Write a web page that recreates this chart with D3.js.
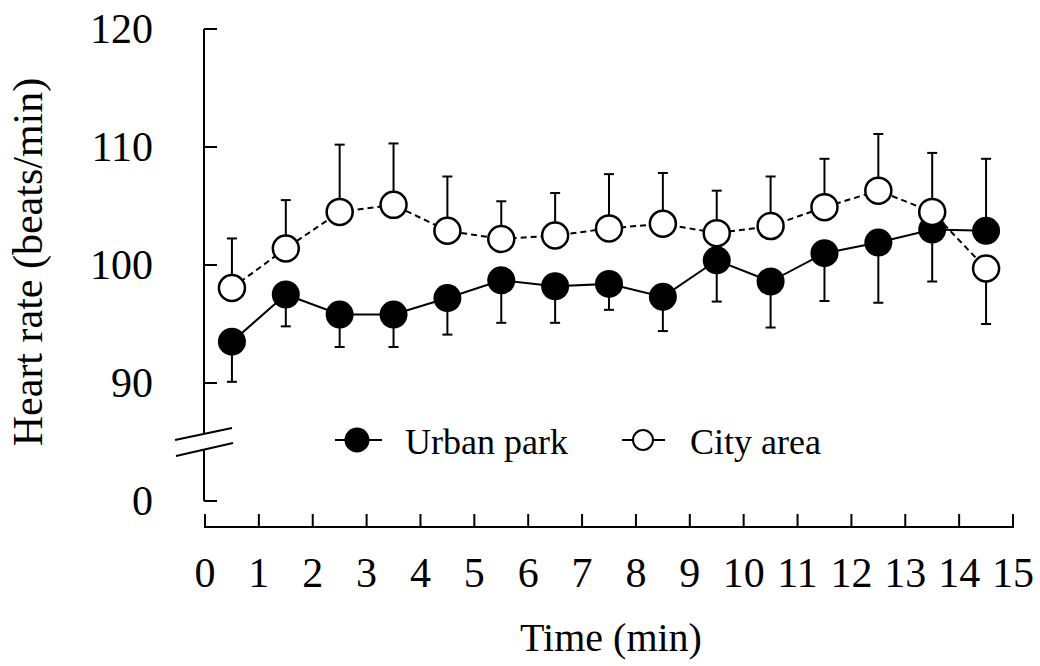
<!DOCTYPE html>
<html>
<head>
<meta charset="utf-8">
<script src="https://cdn.jsdelivr.net/npm/d3@7/dist/d3.min.js"></script>
<style>
  html, body { margin: 0; padding: 0; background: #fff; }
  svg { display: block; }
  text { font-family: "Liberation Serif", "Times New Roman", serif; fill: #000; }
</style>
</head>
<body>
<svg id="chart" width="1040" height="666"></svg>
<script>
// ---- data ----
const times = [0.5, 1.5, 2.5, 3.5, 4.5, 5.5, 6.5, 7.5, 8.5, 9.5, 10.5, 11.5, 12.5, 13.5, 14.5];
const urbanPark = [93.5, 97.5, 95.8, 95.8, 97.2, 98.7, 98.2, 98.4, 97.3, 100.4, 98.6, 101.0, 101.9, 103.0, 102.9];
const urbanSD   = [3.4, 2.7, 2.75, 2.75, 3.1, 3.6, 3.1, 2.2, 2.9, 3.5, 3.9, 4.05, 5.1, 4.4, 6.1];
const urbanDir  = [-1, -1, -1, -1, -1, -1, -1, -1, -1, -1, -1, -1, -1, -1, 1];
const cityArea  = [98.05, 101.4, 104.5, 105.1, 102.9, 102.2, 102.5, 103.1, 103.5, 102.7, 103.3, 104.9, 106.3, 104.5, 99.7];
const citySD    = [4.2, 4.1, 5.7, 5.2, 4.6, 3.2, 3.6, 4.6, 4.3, 3.6, 4.2, 4.1, 4.8, 5.0, 4.7];
const cityDir   = [1, 1, 1, 1, 1, 1, 1, 1, 1, 1, 1, 1, 1, 1, -1];
const xTicks = d3.range(0, 16);
const yTicks = [0, 90, 100, 110, 120];
const seriesNames = ["Urban park", "City area"];

// ---- scales ----
const svg = d3.select("#chart");
const x = d3.scaleLinear().domain([0, 15]).range([205, 1013]);
const y = d3.scaleLinear().domain([0, 90, 120]).range([501, 383, 29]);
const axisX = 204;
const axisY = 527;

// ---- y axis (with break) ----
const gy = svg.append("g");
gy.append("line").attr("x1", axisX).attr("x2", axisX).attr("y1", y(120)).attr("y2", 434)
  .attr("stroke", "#000").attr("stroke-width", 2);
gy.append("line").attr("x1", axisX).attr("x2", axisX).attr("y1", 449).attr("y2", y(0))
  .attr("stroke", "#000").attr("stroke-width", 2);
gy.selectAll("line.tick").data(yTicks).enter().append("line")
  .attr("class", "tick")
  .attr("x1", axisX).attr("x2", axisX + 13)
  .attr("y1", d => y(d)).attr("y2", d => y(d))
  .attr("stroke", "#000").attr("stroke-width", 2);
gy.selectAll("text").data(yTicks).enter().append("text")
  .attr("x", 153).attr("y", d => y(d) + 14)
  .attr("text-anchor", "end").attr("font-size", 42)
  .text(d => d);
// break marks
[[175, 440, 232, 428], [176, 456, 233, 443]].forEach(b => {
  gy.append("line").attr("x1", b[0]).attr("y1", b[1]).attr("x2", b[2]).attr("y2", b[3])
    .attr("stroke", "#000").attr("stroke-width", 2);
});

// ---- x axis ----
const gx = svg.append("g");
gx.append("line").attr("x1", x(0) - 1).attr("x2", x(15) + 1).attr("y1", axisY).attr("y2", axisY)
  .attr("stroke", "#000").attr("stroke-width", 2);
gx.selectAll("line.tick").data(xTicks).enter().append("line")
  .attr("class", "tick")
  .attr("x1", d => x(d)).attr("x2", d => x(d))
  .attr("y1", axisY).attr("y2", axisY - 13)
  .attr("stroke", "#000").attr("stroke-width", 2);
gx.selectAll("text").data(xTicks).enter().append("text")
  .attr("x", d => x(d)).attr("y", 587)
  .attr("text-anchor", "middle").attr("font-size", 42)
  .text(d => d);

// ---- titles ----
svg.append("text").attr("x", 611).attr("y", 651).attr("text-anchor", "middle")
  .attr("font-size", 40).text("Time (min)");
svg.append("text").attr("transform", "translate(42,262) rotate(-90)")
  .attr("text-anchor", "middle").attr("font-size", 42).text("Heart rate (beats/min)");

// ---- series ----
function drawSeries(vals, sd, dir, filled, dashed) {
  const g = svg.append("g");
  const pts = times.map((t, i) => ({ t, v: vals[i], e: vals[i] + dir[i] * sd[i] }));
  g.selectAll("line.eb").data(pts).enter().append("line")
    .attr("x1", d => x(d.t)).attr("x2", d => x(d.t))
    .attr("y1", d => y(d.v)).attr("y2", d => y(d.e))
    .attr("stroke", "#000").attr("stroke-width", 2);
  g.selectAll("line.cap").data(pts).enter().append("line")
    .attr("x1", d => x(d.t) - 5).attr("x2", d => x(d.t) + 5)
    .attr("y1", d => y(d.e)).attr("y2", d => y(d.e))
    .attr("stroke", "#000").attr("stroke-width", 2);
  const line = d3.line().x(d => x(d.t)).y(d => y(d.v));
  g.append("path").datum(pts).attr("d", line)
    .attr("fill", "none").attr("stroke", "#000").attr("stroke-width", 2)
    .attr("stroke-dasharray", dashed ? "6,4" : null);
  g.selectAll("circle").data(pts).enter().append("circle")
    .attr("cx", d => x(d.t)).attr("cy", d => y(d.v))
    .attr("r", filled ? 14 : 13)
    .attr("fill", filled ? "#000" : "#fff")
    .attr("stroke", "#000").attr("stroke-width", filled ? 0 : 2.5);
}
drawSeries(urbanPark, urbanSD, urbanDir, true, false);
drawSeries(cityArea, citySD, cityDir, false, true);

// ---- legend ----
const legend = [
  { name: seriesNames[0], filled: true, lx1: 335, lx2: 382, cx: 357, r: 12.5, tx: 405 },
  { name: seriesNames[1], filled: false, lx1: 622, lx2: 665, cx: 643, r: 10, tx: 690 }
];
const lg = svg.append("g");
legend.forEach(l => {
  lg.append("line").attr("x1", l.lx1).attr("x2", l.lx2).attr("y1", 440).attr("y2", 440)
    .attr("stroke", "#000").attr("stroke-width", 2);
  lg.append("circle").attr("cx", l.cx).attr("cy", 440).attr("r", l.r)
    .attr("fill", l.filled ? "#000" : "#fff").attr("stroke", "#000")
    .attr("stroke-width", l.filled ? 0 : 2);
  lg.append("text").attr("x", l.tx).attr("y", 454).attr("font-size", 36).text(l.name);
});
</script>
</body>
</html>
